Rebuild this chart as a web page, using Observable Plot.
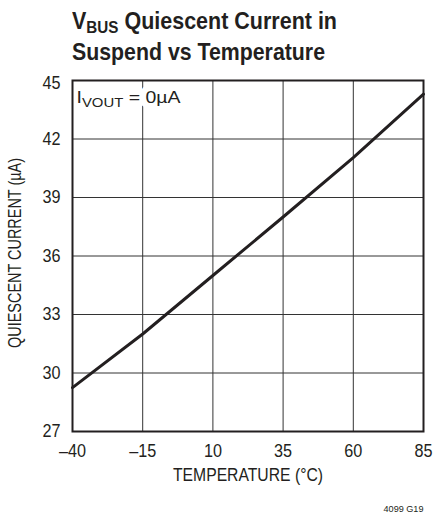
<!DOCTYPE html>
<html>
<head>
<meta charset="utf-8">
<script src="https://cdn.jsdelivr.net/npm/d3@7"></script>
<script src="https://cdn.jsdelivr.net/npm/@observablehq/plot@0.6"></script>
<style>
  html, body { margin: 0; padding: 0; background: white; }
  #title {
    box-sizing: border-box;
    height: 66px;
    padding: 7px 0 0 72px;
    font-family: "Liberation Sans", Arial, sans-serif;
    font-weight: bold;
    font-size: 24px;
    line-height: 28px;
    color: #231f20;
    white-space: nowrap;
  }
  #title .line { display: inline-block; transform-origin: 0 50%; }
  #title .sub { font-size: 17px; position: relative; top: 4px; }
  svg { display: block; }
</style>
</head>
<body>
<div id="title"><span class="line" data-w="265">V<span class="sub">BUS</span> Quiescent Current in</span><br><span class="line" data-w="253">Suspend vs Temperature</span></div>
<div id="chart"></div>
<script>
const FONT = '"Liberation Sans", Arial, sans-serif';
const INK = "#231f20";

// data
const temperature = [-40, -15, 10, 35, 60, 85];
const current = [29.25, 32.0, 35.0, 38.0, 41.05, 44.3];

// ticks
const xTicks = [-40, -15, 10, 35, 60, 85];
const xTickLabels = ["–40", "–15", "10", "35", "60", "85"];
const yTicks = [27, 30, 33, 36, 39, 42, 45];

const data = temperature.map((t, i) => ({t, c: current[i]}));

const noteOpts = {frameAnchor: "top-left", textAnchor: "start", lineAnchor: "top", dx: 4, dy: 10, fontSize: 17};

const chart = Plot.plot({
  width: 435,
  height: 448,
  marginLeft: 72,
  marginRight: 12,
  marginTop: 14,
  marginBottom: 83,
  style: {fontFamily: FONT, fontSize: "18px", color: INK, background: "white"},
  x: {domain: [-40, 85]},
  y: {domain: [27, 45]},
  marks: [
    Plot.gridX(xTicks, {stroke: "#333", strokeOpacity: 1, strokeWidth: 1}),
    Plot.gridY(yTicks, {stroke: "#333", strokeOpacity: 1, strokeWidth: 1}),
    Plot.text(["IVOUT = 0µA"], {...noteOpts, fill: "white", stroke: "white", strokeWidth: 12, className: "halo"}),
    Plot.text(["IVOUT = 0µA"], {...noteOpts, fill: INK, className: "note"}),
    Plot.frame({stroke: INK, strokeWidth: 2}),
    Plot.line(data, {x: "t", y: "c", stroke: INK, strokeWidth: 3}),
    Plot.axisX(xTicks, {tickSize: 0, tickPadding: 13, tickFormat: (d, i) => xTickLabels[i], label: null, fontSize: 18}),
    Plot.axisY(yTicks.slice(0, -1), {tickSize: 0, tickPadding: 12, label: null, fontSize: 18}),
    Plot.axisY(yTicks.slice(-1), {tickSize: 0, tickPadding: 12, label: null, fontSize: 18, dy: 3}),
    Plot.text(["QUIESCENT CURRENT (µA)"], {frameAnchor: "left", textAnchor: "middle", lineAnchor: "middle", rotate: -90, dx: -57, dy: -3, fontSize: 18, fill: INK, className: "ylab"}),
    Plot.text(["TEMPERATURE (°C)"], {frameAnchor: "bottom", textAnchor: "middle", lineAnchor: "middle", dy: 44, fontSize: 18, fill: INK, className: "xlab"}),
    Plot.text(["4099 G19"], {frameAnchor: "bottom-right", textAnchor: "end", lineAnchor: "middle", dy: 77, fontSize: 9.5, fill: INK, className: "code"})
  ]
});

// subscript for the note
const ns = "http://www.w3.org/2000/svg";
for (const sel of ["g.halo text", "g.note text"]) {
  const el = chart.querySelector(sel);
  if (!el) continue;
  el.textContent = "";
  const parts = [["I", null, 0], ["VOUT", 13, 4], [" = 0µA", null, -4]];
  for (const [s, fs, dy] of parts) {
    const ts = document.createElementNS(ns, "tspan");
    ts.textContent = s;
    if (fs) ts.setAttribute("font-size", fs);
    if (dy) ts.setAttribute("dy", dy);
    el.appendChild(ts);
  }
}
document.getElementById("chart").appendChild(chart);

// condensed look: fit text widths to the reference
function fitTo(el, target) {
  el.setAttribute("textLength", target);
  el.setAttribute("lengthAdjust", "spacingAndGlyphs");
}
function squeeze(el, k) {
  const len = el.getComputedTextLength();
  fitTo(el, len * k);
}
chart.querySelectorAll('g[aria-label$="tick label"] text').forEach(el => squeeze(el, 0.9));
chart.querySelectorAll("g.halo text, g.note text").forEach(el => fitTo(el, 104));
chart.querySelectorAll("g.ylab text").forEach(el => fitTo(el, 190));
chart.querySelectorAll("g.xlab text").forEach(el => fitTo(el, 150));
chart.querySelectorAll("g.code text").forEach(el => fitTo(el, 40));

document.querySelectorAll("#title .line").forEach(el => {
  const w = el.getBoundingClientRect().width;
  el.style.transform = `scaleX(${(+el.dataset.w) / w})`;
});
</script>
</body>
</html>
